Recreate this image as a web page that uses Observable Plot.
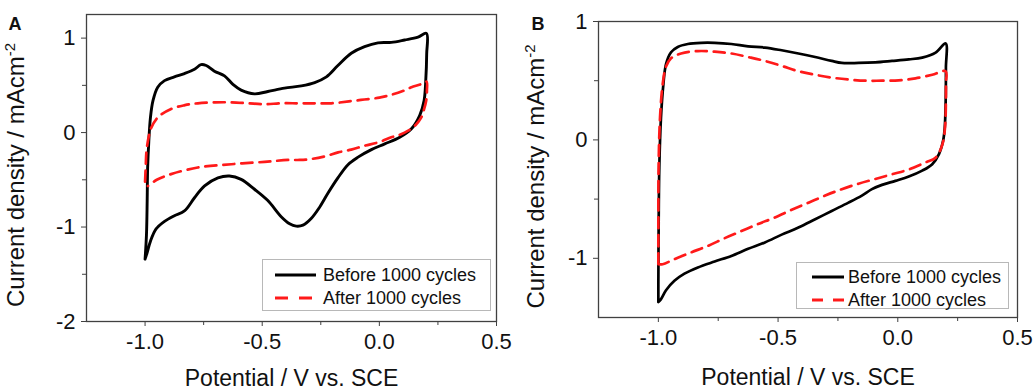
<!DOCTYPE html>
<html>
<head>
<meta charset="utf-8">
<script src="https://cdn.jsdelivr.net/npm/d3@7"></script>
<script src="https://cdn.jsdelivr.net/npm/@observablehq/plot@0.6"></script>
<style>
  body { margin: 0; background: #fff; }
  #fig { position: relative; width: 1035px; height: 391px; font-family: "Liberation Sans", Arial, sans-serif; color: #111; }
  .panel { position: absolute; top: 0; }
  .legend { position: absolute; border: 1px solid #b8b8b8; background: #fff; box-sizing: border-box; font-size: 18px; }
  .legend .row { position: absolute; left: 0; right: 0; height: 22px; display: flex; align-items: center; }
  .legend .row svg { display: block; }
  .legend .row span { white-space: nowrap; }
</style>
</head>
<body>
<div id="fig">
  <div id="panelA" class="panel" style="left:0px"></div>
  <div id="panelB" class="panel" style="left:517px"></div>
</div>
<script>
// ---------- data ----------
const seriesNames = ["Before 1000 cycles", "After 1000 cycles"];
const panelLabels = ["A", "B"];
const xLabel = "Potential / V vs. SCE";
const yLabel = "Current density / mAcm";
const yLabelSup = "-2";

const xTicks = [-1, -0.5, 0, 0.5];
const xMinorTicks = [-0.75, -0.25, 0.25];
const yTicksA = [-2, -1, 0, 1];
const yMinorTicksA = [-1.5, -0.5, 0.5];
const yTicksB = [-1, 0, 1];
const yMinorTicksB = [-0.5, 0.5];

// Panel A — [potential (V), current density (mA cm^-2)]
const beforeA = [
  [-1.0, -1.34], [-0.994, -1.08], [-0.991, -0.72], [-0.989, -0.37], [-0.984, -0.09],
  [-0.977, 0.16], [-0.966, 0.34], [-0.946, 0.48], [-0.917, 0.55], [-0.875, 0.59],
  [-0.832, 0.625], [-0.789, 0.67], [-0.761, 0.72], [-0.739, 0.71], [-0.704, 0.65],
  [-0.661, 0.60], [-0.625, 0.51], [-0.590, 0.45], [-0.533, 0.41], [-0.476, 0.435],
  [-0.405, 0.47], [-0.333, 0.495], [-0.276, 0.53], [-0.226, 0.59], [-0.177, 0.71],
  [-0.120, 0.84], [-0.063, 0.91], [-0.006, 0.95], [0.051, 0.955], [0.108, 0.98],
  [0.165, 1.01], [0.201, 1.05],
  [0.202, 0.83], [0.198, 0.55], [0.191, 0.34], [0.172, 0.18], [0.137, 0.04],
  [0.087, -0.05], [0.023, -0.12], [-0.034, -0.18], [-0.091, -0.26], [-0.134, -0.34],
  [-0.177, -0.48], [-0.219, -0.64], [-0.255, -0.79], [-0.291, -0.91], [-0.326, -0.98],
  [-0.355, -0.99], [-0.383, -0.965], [-0.419, -0.89], [-0.476, -0.72], [-0.533, -0.60],
  [-0.590, -0.495], [-0.640, -0.46], [-0.689, -0.48], [-0.746, -0.565], [-0.789, -0.69],
  [-0.832, -0.83], [-0.875, -0.88], [-0.917, -0.94], [-0.953, -1.02], [-0.977, -1.15],
  [-0.991, -1.27], [-1.0, -1.34]
];
const afterA = [
  [-1.0, -0.52], [-0.997, -0.35], [-0.994, -0.2], [-0.985, -0.05], [-0.974, 0.05],
  [-0.946, 0.16], [-0.889, 0.25], [-0.83, 0.29], [-0.775, 0.31], [-0.7, 0.32],
  [-0.632, 0.32], [-0.56, 0.31], [-0.49, 0.30], [-0.42, 0.31], [-0.347, 0.31],
  [-0.28, 0.31], [-0.205, 0.31], [-0.13, 0.33], [-0.064, 0.35], [0.0, 0.37],
  [0.051, 0.40], [0.1, 0.44], [0.137, 0.48], [0.175, 0.51], [0.201, 0.54],
  [0.203, 0.45], [0.2, 0.34], [0.19, 0.24], [0.179, 0.16], [0.155, 0.08],
  [0.123, 0.02], [0.09, -0.02], [0.051, -0.05], [0.0, -0.10], [-0.064, -0.14],
  [-0.12, -0.18], [-0.176, -0.21], [-0.23, -0.25], [-0.291, -0.28], [-0.34, -0.29],
  [-0.39, -0.29], [-0.49, -0.31], [-0.632, -0.335], [-0.775, -0.37], [-0.889, -0.44],
  [-0.95, -0.50], [-0.988, -0.565]
];

// Panel B
const beforeB = [
  [-1.0, -1.37], [-1.0, -1.22], [-0.999, -0.80], [-0.996, -0.23], [-0.989, 0.19],
  [-0.979, 0.47], [-0.968, 0.64], [-0.947, 0.74], [-0.919, 0.785], [-0.877, 0.81],
  [-0.821, 0.82], [-0.765, 0.82], [-0.695, 0.81], [-0.625, 0.79], [-0.555, 0.78],
  [-0.485, 0.757], [-0.415, 0.73], [-0.345, 0.70], [-0.276, 0.667], [-0.234, 0.65],
  [-0.164, 0.65], [-0.094, 0.655], [-0.024, 0.667], [0.046, 0.68], [0.102, 0.695],
  [0.158, 0.737], [0.2, 0.815],
  [0.201, 0.61], [0.2, 0.33], [0.196, 0.10], [0.189, -0.01], [0.172, -0.12],
  [0.144, -0.205], [0.102, -0.26], [0.046, -0.31], [-0.01, -0.346], [-0.066, -0.38],
  [-0.108, -0.416], [-0.150, -0.47], [-0.206, -0.53], [-0.276, -0.60], [-0.345, -0.67],
  [-0.415, -0.74], [-0.485, -0.80], [-0.555, -0.866], [-0.625, -0.92], [-0.695, -0.98],
  [-0.765, -1.027], [-0.835, -1.077], [-0.891, -1.13], [-0.933, -1.19], [-0.968, -1.27],
  [-0.989, -1.345], [-1.0, -1.37]
];
const afterB = [
  [-1.0, -1.05], [-1.0, -0.80], [-0.999, -0.23], [-0.993, 0.19], [-0.982, 0.47],
  [-0.968, 0.62], [-0.947, 0.69], [-0.905, 0.73], [-0.835, 0.75], [-0.765, 0.745],
  [-0.695, 0.73], [-0.625, 0.70], [-0.555, 0.667], [-0.485, 0.625], [-0.415, 0.58],
  [-0.345, 0.55], [-0.276, 0.526], [-0.206, 0.51], [-0.136, 0.50], [-0.066, 0.50],
  [0.004, 0.503], [0.074, 0.52], [0.144, 0.55], [0.2, 0.58],
  [0.201, 0.48], [0.201, 0.33], [0.197, 0.10], [0.186, -0.04], [0.158, -0.15], [0.116, -0.19],
  [0.046, -0.25], [-0.024, -0.29], [-0.094, -0.33], [-0.164, -0.37], [-0.234, -0.416],
  [-0.303, -0.47], [-0.373, -0.53], [-0.443, -0.59], [-0.513, -0.655], [-0.583, -0.71],
  [-0.653, -0.77], [-0.723, -0.83], [-0.793, -0.895], [-0.863, -0.95], [-0.933, -1.007],
  [-0.982, -1.05], [-1.0, -1.05]
];

// ---------- styles ----------
const FONT = "'Liberation Sans', Arial, Helvetica, sans-serif";
const BLACK = "#000";
const RED = "#ff1a1a";
const DASH = "11,7";
const FRAME = "#404040";

function panel({label, before, after, yDomain, yTicks, yMinor, width, height, margins, blackWidth, redWidth, ylabelOffset, xlabelOffset, labelDx, labelDy}) {
  const [mt, mr, mb, ml] = margins;
  const svg = Plot.plot({
    width, height,
    marginTop: mt, marginRight: mr, marginBottom: mb, marginLeft: ml,
    style: {fontFamily: FONT, background: "transparent", color: "#111", overflow: "visible"},
    x: {domain: [-1.25, 0.5]},
    y: {domain: yDomain},
    marks: [
      Plot.frame({stroke: FRAME, strokeWidth: 1.3}),
      Plot.axisX({ticks: xTicks, tickFormat: d => d.toFixed(1), tickSize: 5, tickPadding: 7, fontSize: 22, label: null, stroke: FRAME}),
      Plot.axisX({ticks: xMinorTicks, tickFormat: () => "", tickSize: 4, label: null, stroke: FRAME}),
      Plot.axisX({ticks: [], label: xLabel, labelAnchor: "center", labelArrow: "none", labelOffset: xlabelOffset, fontSize: 23}),
      Plot.axisY({ticks: yTicks, tickFormat: d => String(d), tickSize: 5, tickPadding: 6, fontSize: 22, label: null, stroke: FRAME}),
      Plot.axisY({ticks: yMinor, tickFormat: () => "", tickSize: 4, label: null, stroke: FRAME}),
      Plot.axisY({ticks: [], label: yLabel, labelAnchor: "center", labelArrow: "none", labelOffset: ylabelOffset, fontSize: 24}),
      Plot.line(before, {x: d => d[0], y: d => d[1], stroke: BLACK, strokeWidth: blackWidth, curve: "catmull-rom"}),
      Plot.line(after, {x: d => d[0], y: d => d[1], stroke: RED, strokeWidth: redWidth, strokeDasharray: DASH, curve: "catmull-rom"}),
      Plot.text([label], {frameAnchor: "top-left", textAnchor: "start", lineAnchor: "top", dx: labelDx, dy: labelDy, fontSize: 18, fontWeight: "bold", text: d => d, fill: "#111"})
    ]
  });
  // superscript on y label
  d3.select(svg).selectAll("text").each(function() {
    if (this.textContent.replace(/[↑↓]\s*/g, "").trim() === yLabel) {
      this.textContent = yLabel;
      d3.select(this).append("tspan").attr("dy", -9).style("font-size", "15px").text(yLabelSup);
      d3.select(this.parentNode).attr("transform", (d3.select(this.parentNode).attr("transform") || "") + " translate(0,7)");
    }
  });
  return svg;
}

function legend(parent, {left, top, width, height, rowTops, lineX0, lineLen, textX, dash}) {
  const box = document.createElement("div");
  box.className = "legend";
  Object.assign(box.style, {left: left + "px", top: top + "px", width: width + "px", height: height + "px"});
  seriesNames.forEach((name, i) => {
    const row = document.createElement("div");
    row.className = "row";
    row.style.top = rowTops[i] + "px";
    const s = d3.create("svg").attr("width", textX).attr("height", 22);
    s.append("line").attr("x1", lineX0).attr("x2", lineX0 + lineLen).attr("y1", 11).attr("y2", 11)
      .attr("stroke", i === 0 ? BLACK : RED).attr("stroke-width", 3)
      .attr("stroke-dasharray", i === 0 ? null : dash);
    row.appendChild(s.node());
    const t = document.createElement("span");
    t.textContent = name;
    row.appendChild(t);
    box.appendChild(row);
  });
  parent.appendChild(box);
}

const fig = document.getElementById("fig");

document.getElementById("panelA").appendChild(panel({
  label: panelLabels[0], before: beforeA, after: afterA,
  yDomain: [-2, 1.25], yTicks: yTicksA, yMinor: yMinorTicksA,
  width: 517, height: 391, margins: [14, 21, 70, 86],
  blackWidth: 2.9, redWidth: 2.7, ylabelOffset: 80, xlabelOffset: 64,
  labelDx: -78, labelDy: 3
}));
document.getElementById("panelB").appendChild(panel({
  label: panelLabels[1], before: beforeB, after: afterB,
  yDomain: [-1.5, 1], yTicks: yTicksB, yMinor: yMinorTicksB,
  width: 518, height: 391, margins: [21, 18, 74, 81],
  blackWidth: 2.7, redWidth: 2.7, ylabelOffset: 72, xlabelOffset: 67,
  labelDx: -67, labelDy: -4
}));

legend(fig, {left: 262, top: 259, width: 229, height: 52, rowTops: [4, 27], lineX0: 12, lineLen: 41, textX: 60, dash: "13,11"});
legend(fig, {left: 796, top: 262, width: 213, height: 47, rowTops: [3, 26], lineX0: 15, lineLen: 32, textX: 51, dash: "11,10"});
</script>
</body>
</html>
